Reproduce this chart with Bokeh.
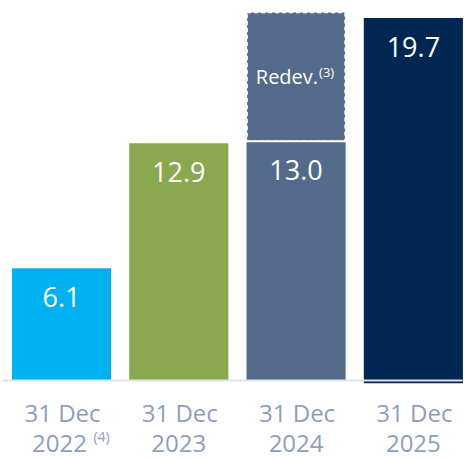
from bokeh.plotting import figure
from bokeh.models import ColumnDataSource, Range1d
from bokeh.core.properties import value
from bokeh.embed import file_html
from bokeh.resources import INLINE

# ---- data ----
x_idx = [0, 1, 2, 3]
values = [6.1, 12.9, 13.0, 19.7]
value_labels = ["6.1", "12.9", "13.0", "19.7"]
redev = [0.0, 0.0, 7.0, 0.0]
colors = ["#00b0f0", "#8aa84f", "#546a8b", "#002753"]
label_line1 = ["31 Dec", "31 Dec", "31 Dec", "31 Dec"]
label_line2 = ["2022", "2023", "2024", "2025"]
notes = ["(4)", "", "", ""]
redev_label = "Redev."
redev_note = "(3)"

FONT = value("Open Sans")
LABEL_COLOR = "#8d9ebf"

p = figure(width=464, height=460, output_backend="svg", toolbar_location=None,
           x_range=Range1d(-0.520, 3.436), y_range=Range1d(-4.348, 20.652),
           min_border=0, min_border_left=0, min_border_right=0,
           min_border_top=0, min_border_bottom=0)
p.axis.visible = False
p.grid.visible = False
p.outline_line_color = None
p.background_fill_color = "white"

src = ColumnDataSource(dict(x=x_idx, top=values, color=colors, lab=value_labels,
                            l1=label_line1, l2=label_line2, note=notes))

# main bars (last bar slightly below the baseline like the reference)
bottoms = [0, 0, 0, -0.15]
p.vbar(x=x_idx, top=values, bottom=bottoms, width=0.845, fill_color=colors, line_color=None)

# redevelopment stacked part (dashed)
rsrc = ColumnDataSource(dict(x=[x_idx[2]], bottom=[values[2]], top=[values[2] + redev[2]]))
p.vbar(x="x", bottom="bottom", top="top", width=0.835, source=rsrc,
       fill_color=colors[2], line_color="white", line_dash="4 3", line_width=1.5)
# white separator between the two parts
p.segment(x0=[x_idx[2] - 0.43], x1=[x_idx[2] + 0.43], y0=[values[2]], y1=[values[2]],
          line_color="white", line_width=2)

# baseline
p.segment(x0=[-0.503], x1=[3.419], y0=[0], y1=[0], line_color="#dfe3eb", line_width=2)

# value labels
p.text(x="x", y="top", text="lab", source=src, text_color="white", text_font=FONT,
       text_font_size="27px", text_align="center", text_baseline="middle", y_offset=29)

# redev label
mid = values[2] + redev[2] / 2
p.text(x=[x_idx[2]], y=[mid], text=[redev_label], text_color="white", text_font=FONT,
       text_font_size="20px", text_align="right", text_baseline="middle", x_offset=22)
p.text(x=[x_idx[2]], y=[mid], text=[redev_note], text_color="white", text_font=FONT,
       text_font_size="13px", text_align="left", text_baseline="middle", x_offset=23, y_offset=-5)

# category labels
p.text(x="x", y=0, text="l1", source=src, text_color=LABEL_COLOR, text_font=FONT,
       text_font_size="24px", text_align="center", text_baseline="middle", y_offset=32, x_offset=1)
line2_off = [-2, 0, 0, 0]
src2 = ColumnDataSource(dict(x=x_idx, l2=label_line2, note=notes, xo=line2_off))
p.text(x="x", y=0, text="l2", source=src2, text_color=LABEL_COLOR, text_font=FONT,
       text_font_size="24px", text_align="center", text_baseline="middle", y_offset=63, x_offset="xo")
p.text(x="x", y=0, text="note", source=src2, text_color=LABEL_COLOR, text_font=FONT,
       text_font_size="14px", text_align="left", text_baseline="middle", y_offset=56, x_offset=32)

open("out.html", "w").write(file_html(p, INLINE))
